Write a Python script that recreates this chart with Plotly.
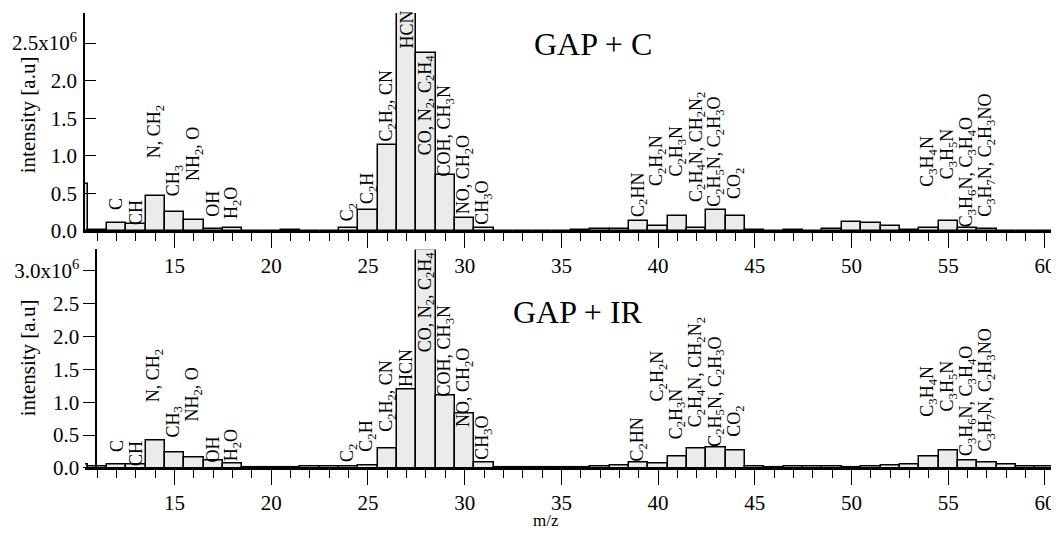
import plotly.graph_objects as go

# ---------------- data ----------------
mz = list(range(10, 61))

# GAP + C (top panel) intensities [a.u]
gap_c = [0.62e6, 0.01e6, 0.107e6, 0.098e6, 0.46e6, 0.25e6, 0.15e6, 0.027e6, 0.04e6, 0.005e6,
         0.003e6, 0.01e6, 0.005e6, 0.004e6, 0.045e6, 0.275e6, 1.147e6, 2.90e6, 2.37e6, 0.75e6,
         0.173e6, 0.036e6, 0.005e6, 0.004e6, 0.004e6, 0.005e6, 0.01e6, 0.03e6, 0.02e6, 0.13e6,
         0.06e6, 0.195e6, 0.04e6, 0.284e6, 0.204e6, 0.013e6, 0.005e6, 0.01e6, 0.005e6, 0.02e6,
         0.12e6, 0.10e6, 0.06e6, 0.01e6, 0.035e6, 0.133e6, 0.035e6, 0.03e6, 0.005e6, 0.004e6,
         0.004e6]

# GAP + IR (bottom panel) intensities [a.u]
gap_ir = [0.05e6, 0.02e6, 0.06e6, 0.05e6, 0.425e6, 0.243e6, 0.157e6, 0.12e6, 0.066e6, 0.015e6,
          0.01e6, 0.012e6, 0.02e6, 0.02e6, 0.025e6, 0.04e6, 0.304e6, 1.2e6, 3.32e6, 1.1e6,
          0.836e6, 0.086e6, 0.01e6, 0.01e6, 0.01e6, 0.01e6, 0.015e6, 0.02e6, 0.045e6, 0.09e6,
          0.07e6, 0.177e6, 0.29e6, 0.31e6, 0.263e6, 0.025e6, 0.015e6, 0.02e6, 0.02e6, 0.02e6,
          0.015e6, 0.025e6, 0.045e6, 0.05e6, 0.17e6, 0.26e6, 0.12e6, 0.09e6, 0.055e6, 0.02e6,
          0.02e6]

# species labels (m/z, text)
label_mz = [12, 13, 14, 15, 16, 17, 18, 24, 25, 26, 27, 28, 29, 30, 31,
            39, 40, 41, 42, 43, 44, 54, 55, 56, 57]
label_txt = ["C", "CH", "N, CH<sub>2</sub>", "CH<sub>3</sub>", "NH<sub>2</sub>, O", "OH",
             "H<sub>2</sub>O", "C<sub>2</sub>", "C<sub>2</sub>H", "C<sub>2</sub>H<sub>2</sub>, CN",
             "HCN", "CO, N<sub>2</sub>, C<sub>2</sub>H<sub>4</sub>", "COH, CH<sub>3</sub>N",
             "NO, CH<sub>2</sub>O", "CH<sub>3</sub>O", "C<sub>2</sub>HN", "C<sub>2</sub>H<sub>2</sub>N",
             "C<sub>2</sub>H<sub>3</sub>N", "C<sub>2</sub>H<sub>4</sub>N, CH<sub>2</sub>N<sub>2</sub>",
             "C<sub>2</sub>H<sub>5</sub>N, C<sub>2</sub>H<sub>3</sub>O", "CO<sub>2</sub>",
             "C<sub>3</sub>H<sub>4</sub>N", "C<sub>3</sub>H<sub>5</sub>N",
             "C<sub>3</sub>H<sub>6</sub>N, C<sub>3</sub>H<sub>4</sub>O",
             "C<sub>3</sub>H<sub>7</sub>N, C<sub>2</sub>H<sub>3</sub>NO"]

# label baseline heights (placement of the rotated labels)
label_y_top = [0.26e6, 0.07e6, 0.95e6, 0.45e6, 0.65e6, 0.18e6, 0.14e6, 0.11e6, 0.35e6, 1.18e6,
               2.41e6, 1.0e6, 0.71e6, 0.21e6, 0.07e6, 0.17e6, 0.58e6, 0.71e6, 0.37e6, 0.31e6,
               0.41e6, 0.58e6, 0.67e6, 0.03e6, 0.18e6]
label_y_bot = [0.22e6, 0.02e6, 0.98e6, 0.45e6, 0.69e6, 0.07e6, 0.08e6, 0.07e6, 0.24e6, 0.54e6,
               1.21e6, 1.75e6, 1.07e6, 0.61e6, 0.11e6, 0.08e6, 0.99e6, 0.42e6, 0.60e6, 0.31e6,
               0.46e6, 0.77e6, 0.84e6, 0.16e6, 0.24e6]

ytick_top = [0, 0.5e6, 1.0e6, 1.5e6, 2.0e6, 2.5e6]
ytick_top_txt = ["0.0", "0.5", "1.0", "1.5", "2.0", "2.5x10<sup>6</sup>"]
ytick_bot = [0, 0.5e6, 1.0e6, 1.5e6, 2.0e6, 2.5e6, 3.0e6]
ytick_bot_txt = ["0.0", "0.5", "1.0", "1.5", "2.0", "2.5", "3.0x10<sup>6</sup>"]

# ---------------- figure ----------------
FONT = "'Liberation Serif', 'Times New Roman', 'DejaVu Serif', serif"
bar_style = dict(color="#ebebeb", line=dict(color="black", width=1.5))

# page body has an 8px margin: size the figure so it ends at the window edge
OFF = 8
W, H = 1059 - OFF, 534 - OFF
L, R, T, B = 82 - OFF, 4, 13 - OFF, 66
pw, ph = W - L - R, H - T - B

fig = go.Figure()
fig.add_trace(go.Bar(x=mz, y=gap_c, width=1, marker=bar_style, xaxis="x", yaxis="y",
                     showlegend=False))
fig.add_trace(go.Bar(x=mz, y=gap_ir, width=1, marker=bar_style, xaxis="x2", yaxis="y2",
                     showlegend=False))

xcommon = dict(range=[10.37, 60.47], showline=True, linecolor="black", linewidth=1.5,
               ticks="outside", ticklen=15, tickwidth=1.2, tickcolor="black",
               tick0=0, dtick=5, showgrid=False, zeroline=False,
               tickfont=dict(family=FONT, size=21, color="black"),
               ticklabelstandoff=0,
               minor=dict(dtick=1, tick0=0, ticks="outside", ticklen=8, tickwidth=1.2,
                          tickcolor="black", showgrid=False))

fig.update_layout(
    width=W, height=H,
    margin=dict(l=L, r=R, t=T, b=B),
    paper_bgcolor="white", plot_bgcolor="white",
    bargap=0,
    font=dict(family=FONT, color="black"),
    xaxis=dict(domain=[0, 1], anchor="y", **xcommon),
    xaxis2=dict(domain=[0, 1], anchor="y2", **xcommon),
    yaxis=dict(domain=[0.521, 1], anchor="x", range=[0, 2.9e6], showline=True,
               linecolor="black", linewidth=1.5, ticks="inside", ticklen=11, tickwidth=1.2,
               tickcolor="black", tickvals=ytick_top, ticktext=ytick_top_txt,
               showgrid=False, zeroline=False, ticklabelstandoff=2,
               tickfont=dict(family=FONT, size=21, color="black")),
    yaxis2=dict(domain=[0, 0.4804], anchor="free", position=0.0116, range=[0, 3.32e6],
                showline=True, linecolor="black", linewidth=1.5, ticks="outside", ticklen=12,
                tickwidth=1.2, tickcolor="black", tickvals=ytick_bot, ticktext=ytick_bot_txt,
                showgrid=False, zeroline=False,
                tickfont=dict(family=FONT, size=21, color="black")),
)

ann = []
for m, t, yt, yb in zip(label_mz, label_txt, label_y_top, label_y_bot):
    ann.append(dict(x=m, y=yt, xref="x", yref="y", text=t, textangle=-90, showarrow=False,
                    xanchor="center", yanchor="bottom", borderpad=0,
                    font=dict(family=FONT, size=18, color="black")))
    ann.append(dict(x=m, y=yb, xref="x2", yref="y2", text=t, textangle=-90, showarrow=False,
                    xanchor="center", yanchor="bottom", borderpad=0,
                    font=dict(family=FONT, size=18, color="black")))

# panel titles, axis titles (window-pixel placement, converted below)
ann.append(dict(x=592, y=44, text="GAP + C", showarrow=False,
                font=dict(family=FONT, size=32, color="black")))
ann.append(dict(x=577, y=312, text="GAP + IR", showarrow=False,
                font=dict(family=FONT, size=32, color="black")))
ann.append(dict(x=25, y=115, text="intensity [a.u]", textangle=-90, showarrow=False,
                font=dict(family=FONT, size=21, color="black")))
ann.append(dict(x=25, y=358, text="intensity [a.u]", textangle=-90, showarrow=False,
                font=dict(family=FONT, size=21, color="black")))
ann.append(dict(x=545, y=520, text="m/z", showarrow=False,
                font=dict(family=FONT, size=17, color="black")))

for a in ann[len(label_mz) * 2:]:
    fx, fy = a["x"] - OFF, a["y"] - OFF
    a["xref"] = "paper"
    a["yref"] = "paper"
    a["x"] = (fx - L) / pw
    a["y"] = (H - B - fy) / ph
    a["xanchor"] = "center"
    a["yanchor"] = "middle"

fig.update_layout(annotations=ann)
fig.write_html("out.html")
